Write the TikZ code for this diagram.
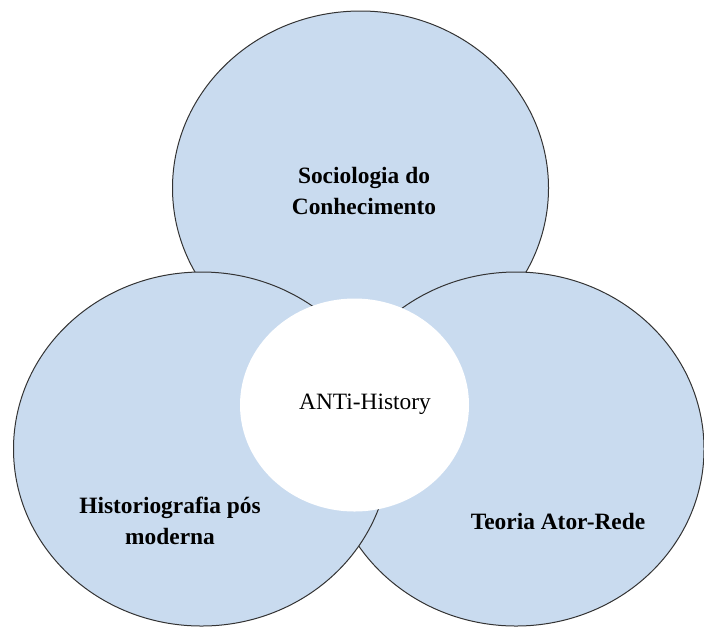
\documentclass[tikz,border=0pt]{standalone}
\usepackage{fontspec}
\setmainfont{Liberation Serif}
\usepackage{xcolor}
\usepackage{tikz}
\usetikzlibrary{shapes,positioning}
\definecolor{circblue}{HTML}{C9DBEF}
\tikzset{ell/.style={ellipse,draw=black!80,line width=0.5pt,fill=circblue,minimum width=188pt,minimum height=177pt,inner sep=0pt}}
\tikzset{hole/.style={ellipse,fill=white,minimum width=114.5pt,minimum height=106.5pt,inner sep=0pt}}
\tikzset{lab/.style={align=center,font=\fontsize{11.7}{15.5}\selectfont\bfseries}}

\begin{document}
\begin{tikzpicture}[x=0.5pt,y=-0.5pt]
    \useasboundingbox (0,0) rectangle (704,628);
    \node[ell] (top)at (360.5,188) {};
    \node[ell] (right)at (516,449) {};
    \node[ell] (left)at (201.5,449) {};
    \node[hole] (mid)at (354.5,405) {};

    \node[lab] (socio)at (364,191) {Sociologia do\\Conhecimento};
    \node[lab] (histo)at (170,521) {Historiografia pós\\moderna};
    \node[lab] (teoria)at (558,521) {Teoria Ator-Rede};
    \node[font=\fontsize{11.7}{14}\selectfont] (anti)at (365,404) {ANTi-History};
\end{tikzpicture}
\end{document}
